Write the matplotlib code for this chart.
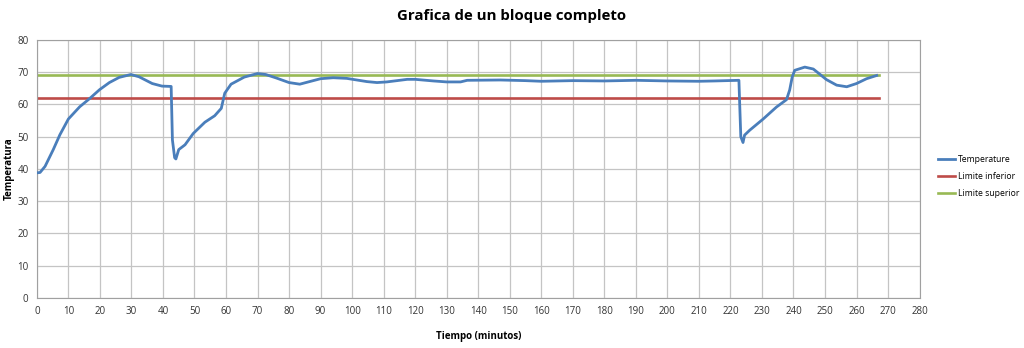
import matplotlib
matplotlib.use("Agg")
import matplotlib.pyplot as plt

# -------- Data
tiempo = [0, 1, 2.6, 5.2, 7.3, 10, 13.6, 16.7, 19.9, 23, 26.1, 29.8, 32.4, 36.6, 39.7,
          42.6, 43, 43.7, 44.1, 45, 47, 49.6, 53.3, 56.4, 58.5, 59.6, 61.6, 65.8, 70,
          72.6, 76, 80, 83.4, 90, 94, 98.3, 104.7, 107.9, 111, 117.5, 120, 125.8, 130,
          134.4, 136.5, 147, 155, 160, 170, 180, 190, 200, 210, 215, 222.7, 222.9,
          223.3, 224, 224.5, 226.1, 230.4, 234.6, 237.8, 238.8, 239.6, 240.4, 243.6,
          246.3, 250.5, 253.7, 256.9, 260, 263.2, 266.4]
temperatura = [38.8, 38.9, 40.8, 46, 50.6, 55.5, 59.3, 61.8, 64.6, 66.8, 68.4, 69.3,
               68.6, 66.5, 65.7, 65.6, 49, 43.5, 43.1, 46, 47.5, 51, 54.5, 56.5, 58.8,
               63.5, 66.3, 68.5, 69.6, 69.3, 68.2, 66.8, 66.3, 68.0, 68.3, 68.1, 67.1,
               66.8, 67.0, 67.8, 67.8, 67.3, 67.0, 67.0, 67.5, 67.6, 67.4, 67.2, 67.4,
               67.3, 67.5, 67.3, 67.2, 67.3, 67.5, 61.5, 50, 48.2, 50.5, 52, 55.5, 59.2,
               61.5, 64.5, 68.5, 70.6, 71.6, 71.0, 67.7, 66.0, 65.5, 66.5, 68.0, 69.0]

limite_inferior = 62
limite_superior = 69
limite_x = [0, 267]

x_ticks = list(range(0, 281, 10))
y_ticks = list(range(0, 81, 10))

BLUE = "#4A7EBB"
RED = "#BE4B48"
GREEN = "#98B954"

plt.rcParams["font.family"] = ["Open Sans", "DejaVu Sans"]

fig = plt.figure(figsize=(10.24, 3.48), dpi=100)
ax = fig.add_axes([0.036, 0.144, 0.862, 0.741])

ax.plot(tiempo, temperatura, color=BLUE, lw=2.0, label="Temperature", zorder=3)
ax.plot(limite_x, [limite_inferior] * 2, color=RED, lw=1.9, label="Limite inferior", zorder=2)
ax.plot(limite_x, [limite_superior] * 2, color=GREEN, lw=1.9, label="Limite superior", zorder=2)

ax.set_xlim(0, 280)
ax.set_ylim(0, 80)
ax.set_xticks(x_ticks)
ax.set_yticks(y_ticks)
ax.grid(True, color="#C4C4C4", lw=0.9)
ax.set_axisbelow(True)
for s in ax.spines.values():
    s.set_color("#A0A0A0")
ax.tick_params(length=0, labelsize=7, colors="#333333", pad=6)

ax.set_xlabel("Tiempo (minutos)", fontsize=7, fontweight="bold", labelpad=10)
ax.set_ylabel("Temperatura", fontsize=7, fontweight="bold", labelpad=2)
fig.suptitle("Grafica de un bloque completo", fontsize=10.8, fontweight="bold",
             x=0.5, y=0.975)

ax.legend(loc="center left", bbox_to_anchor=(1.012, 0.47), frameon=False,
          fontsize=6.2, handlelength=2.0, handletextpad=0.3, labelspacing=0.9)

fig.savefig("out.png", dpi=100)
